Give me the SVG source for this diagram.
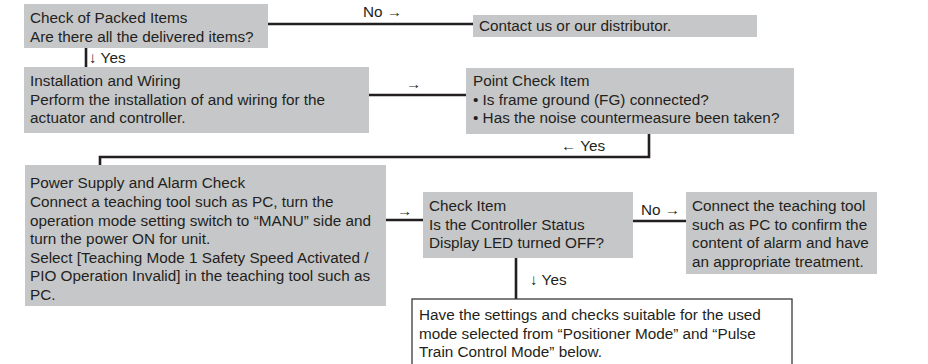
<svg xmlns="http://www.w3.org/2000/svg" width="928" height="364" viewBox="0 0 928 364">
<style>
.box{fill:#c6c7c8;stroke:none}
.wbox{fill:#ffffff;stroke:#3a3a3a;stroke-width:1.3}
text{font-family:"Liberation Sans",Arial,sans-serif;font-size:15.3px;fill:#231f20}
.ln{fill:none;stroke:#231f20;stroke-width:2.6}
</style>
<rect width="928" height="364" fill="#ffffff"/>
<g id="connectors">
<line class="ln" x1="268" y1="24" x2="473" y2="24"/>
<text x="363" y="17">No →</text>
<line class="ln" x1="86" y1="48" x2="86" y2="67" stroke-width="2.2"/>
<text x="89" y="63">↓ Yes</text>
<line class="ln" x1="369" y1="95" x2="466" y2="95"/>
<text x="406" y="89">→</text>
<polyline class="ln" points="649,134 649,157 100,157 100,165"/>
<text x="561" y="151">← Yes</text>
<line class="ln" x1="386" y1="220" x2="423" y2="220"/>
<text x="397" y="216">→</text>
<line class="ln" x1="633" y1="221" x2="686" y2="221"/>
<text x="641" y="215">No →</text>
<line class="ln" x1="516" y1="258" x2="516" y2="299"/>
<text x="530" y="285">↓ Yes</text>
</g>
<g id="n1">
<rect class="box" x="24" y="4" width="244" height="44"/>
<text x="30" y="23">Check of Packed Items</text>
<text x="30" y="42">Are there all the delivered items?</text>
</g>
<g id="n2">
<rect class="box" x="473" y="15" width="284" height="22"/>
<text x="479" y="31">Contact us or our distributor.</text>
</g>
<g id="n3">
<rect class="box" x="24" y="67" width="345" height="66"/>
<text x="30" y="86">Installation and Wiring</text>
<text x="30" y="105">Perform the installation of and wiring for the</text>
<text x="30" y="123">actuator and controller.</text>
</g>
<g id="n4">
<rect class="box" x="466" y="68" width="328" height="66"/>
<text x="473" y="86">Point Check Item</text>
<text x="473" y="105">• Is frame ground (FG) connected?</text>
<text x="473" y="123">• Has the noise countermeasure been taken?</text>
</g>
<g id="n5">
<rect class="box" x="25" y="165" width="361" height="141"/>
<text x="30" y="188">Power Supply and Alarm Check</text>
<text x="30" y="207">Connect a teaching tool such as PC, turn the</text>
<text x="30" y="226">operation mode setting switch to “MANU” side and</text>
<text x="30" y="244">turn the power ON for unit.</text>
<text x="30" y="263">Select [Teaching Mode 1 Safety Speed Activated /</text>
<text x="30" y="281">PIO Operation Invalid] in the teaching tool such as</text>
<text x="30" y="300">PC.</text>
</g>
<g id="n6">
<rect class="box" x="423" y="192" width="210" height="66"/>
<text x="429" y="211">Check Item</text>
<text x="429" y="230">Is the Controller Status</text>
<text x="429" y="248">Display LED turned OFF?</text>
</g>
<g id="n7">
<rect class="box" x="686" y="192" width="191" height="82"/>
<text x="692" y="211">Connect the teaching tool</text>
<text x="692" y="230">such as PC to confirm the</text>
<text x="692" y="248">content of alarm and have</text>
<text x="692" y="267">an appropriate treatment.</text>
</g>
<g id="n8">
<rect class="wbox" x="412" y="299" width="380" height="80"/>
<text x="419" y="320">Have the settings and checks suitable for the used</text>
<text x="419" y="339">mode selected from “Positioner Mode” and “Pulse</text>
<text x="419" y="357">Train Control Mode” below.</text>
</g>
</svg>
